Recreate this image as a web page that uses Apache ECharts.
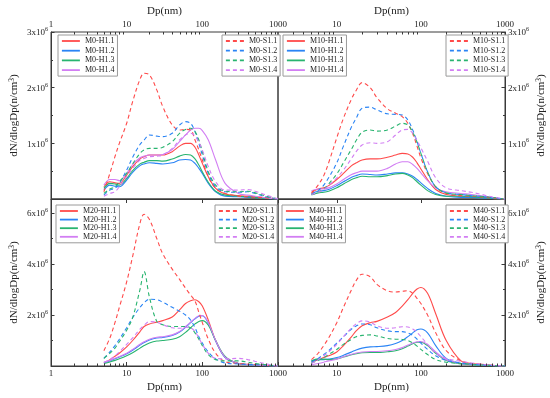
<!DOCTYPE html>
<html><head><meta charset="utf-8">
<style>html,body{margin:0;padding:0;background:#fff}#c{width:550px;height:398px}</style>
<script src="https://cdn.jsdelivr.net/npm/echarts@6/dist/echarts.min.js"></script>
</head><body><div id="c"></div>
<script>
// particle diameter grid (nm)
const X = [5,6,7,8,10,12,15,17,20,25,30,40,50,60,70,80,90,100,120,150,200,300,400,500,700,1000];
// values in units of 10^6 n/cm3
const M0_H1_1 = [0.22,0.31,0.29,0.28,0.43,0.58,0.72,0.76,0.79,0.79,0.79,0.85,0.95,1.00,1.00,0.93,0.79,0.64,0.40,0.19,0.09,0.06,0.05,0.04,0.02,0];
const M0_H1_2 = [0.16,0.25,0.23,0.22,0.34,0.48,0.60,0.63,0.65,0.64,0.63,0.65,0.70,0.71,0.70,0.64,0.55,0.46,0.28,0.13,0.05,0.04,0.03,0.03,0.01,0];
const M0_H1_3 = [0.19,0.28,0.27,0.25,0.37,0.51,0.63,0.66,0.69,0.69,0.68,0.72,0.77,0.80,0.79,0.72,0.61,0.49,0.30,0.14,0.07,0.05,0.04,0.03,0.01,0];
const M0_H1_4 = [0.25,0.35,0.35,0.33,0.46,0.62,0.74,0.77,0.79,0.79,0.80,0.89,1.03,1.15,1.24,1.27,1.27,1.23,1.06,0.70,0.28,0.10,0.07,0.05,0.02,0];
const M0_S1_1 = [0.13,0.46,0.76,1.00,1.36,1.75,2.15,2.26,2.23,1.96,1.66,1.33,1.24,1.25,1.24,1.06,0.88,0.70,0.40,0.19,0.10,0.05,0.04,0.03,0.02,0];
const M0_S1_2 = [0.07,0.16,0.19,0.28,0.52,0.75,0.98,1.06,1.15,1.13,1.12,1.18,1.33,1.39,1.36,1.21,1.00,0.79,0.46,0.22,0.13,0.12,0.13,0.10,0.04,0];
const M0_S1_3 = [0.10,0.18,0.22,0.31,0.46,0.63,0.82,0.88,0.91,0.91,0.93,1.03,1.18,1.25,1.27,1.21,1.06,0.85,0.49,0.25,0.14,0.13,0.14,0.11,0.05,0];
const M0_S1_4 = [0.05,0.10,0.13,0.22,0.40,0.55,0.70,0.73,0.76,0.77,0.79,0.91,1.06,1.15,1.18,1.13,1.02,0.88,0.58,0.31,0.16,0.16,0.17,0.14,0.07,0];

const M10_H1_1 = [0.12,0.18,0.20,0.24,0.35,0.46,0.60,0.65,0.70,0.72,0.72,0.75,0.79,0.82,0.81,0.75,0.65,0.54,0.35,0.17,0.08,0.05,0.04,0.03,0.01,0];
const M10_H1_2 = [0.10,0.14,0.15,0.17,0.24,0.31,0.39,0.42,0.45,0.44,0.43,0.45,0.47,0.47,0.45,0.41,0.35,0.29,0.19,0.10,0.05,0.03,0.03,0.02,0.01,0];
const M10_H1_3 = [0.08,0.11,0.12,0.14,0.20,0.27,0.35,0.38,0.41,0.40,0.40,0.42,0.45,0.46,0.43,0.38,0.31,0.25,0.15,0.08,0.05,0.05,0.04,0.03,0.01,0];
const M10_H1_4 = [0.15,0.18,0.18,0.20,0.27,0.35,0.44,0.47,0.50,0.50,0.50,0.55,0.63,0.67,0.67,0.62,0.55,0.47,0.33,0.20,0.13,0.10,0.08,0.06,0.03,0];
const M10_S1_1 = [0.10,0.25,0.42,0.65,1.10,1.45,1.80,1.95,2.09,2.00,1.82,1.62,1.54,1.48,1.36,1.17,0.95,0.74,0.46,0.22,0.10,0.06,0.05,0.04,0.02,0];
const M10_S1_2 = [0.08,0.15,0.25,0.38,0.65,0.95,1.30,1.45,1.63,1.65,1.60,1.53,1.52,1.51,1.42,1.24,1.03,0.82,0.49,0.22,0.11,0.08,0.06,0.05,0.02,0];
const M10_S1_3 = [0.07,0.12,0.18,0.27,0.45,0.65,0.90,1.05,1.20,1.24,1.22,1.24,1.31,1.36,1.33,1.20,1.02,0.82,0.49,0.22,0.11,0.08,0.06,0.05,0.03,0];
const M10_S1_4 = [0.08,0.12,0.17,0.24,0.38,0.52,0.73,0.85,0.97,1.01,1.00,1.03,1.15,1.24,1.25,1.18,1.05,0.92,0.68,0.38,0.20,0.15,0.12,0.09,0.04,0];

const M20_H1_1 = [0.12,0.25,0.38,0.50,0.75,1.00,1.35,1.55,1.65,1.72,1.78,1.92,2.20,2.45,2.56,2.60,2.52,2.35,1.80,1.00,0.35,0.10,0.06,0.04,0.02,0];
const M20_H1_2 = [0.13,0.20,0.28,0.35,0.48,0.62,0.82,0.92,1.02,1.10,1.12,1.20,1.33,1.52,1.70,1.85,1.95,1.97,1.68,0.98,0.33,0.09,0.05,0.03,0.01,0];
const M20_H1_3 = [0.10,0.16,0.22,0.28,0.40,0.52,0.70,0.80,0.90,0.98,1.00,1.05,1.15,1.32,1.50,1.65,1.75,1.78,1.60,1.00,0.38,0.10,0.06,0.04,0.02,0];
const M20_H1_4 = [0.15,0.22,0.30,0.37,0.50,0.65,0.85,0.95,1.05,1.13,1.15,1.22,1.35,1.55,1.72,1.87,1.97,1.98,1.70,1.00,0.35,0.10,0.06,0.04,0.02,0];
const M20_S1_1 = [0.60,1.10,1.70,2.30,3.30,4.30,5.60,5.95,5.75,5.00,4.40,3.80,3.40,3.05,2.78,2.55,2.10,1.70,1.05,0.50,0.17,0.10,0.08,0.06,0.03,0];
const M20_S1_2 = [0.30,0.55,0.80,1.05,1.50,1.90,2.30,2.48,2.62,2.60,2.50,2.30,2.15,2.00,1.80,1.50,1.15,0.90,0.55,0.28,0.12,0.08,0.06,0.05,0.03,0];
const M20_S1_3 = [0.30,0.50,0.70,0.95,1.40,1.90,3.00,3.70,2.70,1.75,1.62,1.55,1.55,1.55,1.50,1.30,1.05,0.80,0.45,0.25,0.20,0.20,0.15,0.10,0.05,0];
const M20_S1_4 = [0.15,0.25,0.40,0.55,0.85,1.10,1.45,1.60,1.74,1.72,1.62,1.50,1.48,1.52,1.50,1.35,1.10,0.85,0.50,0.30,0.28,0.30,0.25,0.18,0.08,0];

const M40_H1_1 = [0.17,0.25,0.33,0.40,0.55,0.80,1.15,1.38,1.58,1.70,1.75,1.92,2.10,2.35,2.60,2.85,3.02,3.08,2.85,2.05,1.00,0.20,0.10,0.07,0.03,0];
const M40_H1_2 = [0.20,0.25,0.25,0.27,0.33,0.42,0.55,0.63,0.70,0.75,0.76,0.80,0.88,1.00,1.15,1.30,1.42,1.45,1.30,0.80,0.30,0.10,0.06,0.04,0.02,0];
const M40_H1_3 = [0.20,0.28,0.27,0.25,0.28,0.35,0.44,0.48,0.52,0.53,0.53,0.56,0.60,0.68,0.78,0.87,0.93,0.93,0.80,0.50,0.22,0.08,0.05,0.03,0.01,0];
const M40_H1_4 = [0.05,0.10,0.15,0.20,0.27,0.36,0.46,0.51,0.55,0.57,0.57,0.60,0.65,0.72,0.82,0.90,0.95,0.96,0.85,0.55,0.25,0.10,0.07,0.05,0.02,0];
const M40_S1_1 = [0.25,0.50,0.80,1.10,1.70,2.30,3.00,3.35,3.60,3.50,3.20,2.95,2.90,2.93,2.95,2.85,2.65,2.45,2.00,1.30,0.60,0.20,0.10,0.07,0.03,0];
const M40_S1_2 = [0.15,0.30,0.45,0.60,0.90,1.15,1.45,1.57,1.65,1.62,1.50,1.38,1.35,1.35,1.30,1.20,1.05,0.90,0.65,0.40,0.22,0.12,0.08,0.05,0.02,0];
const M40_S1_3 = [0.12,0.22,0.33,0.45,0.65,0.85,1.05,1.15,1.20,1.22,1.18,1.08,1.05,1.04,1.00,0.90,0.78,0.65,0.45,0.25,0.15,0.10,0.07,0.05,0.02,0];
const M40_S1_4 = [0.10,0.25,0.40,0.55,0.85,1.15,1.50,1.65,1.77,1.72,1.58,1.48,1.50,1.54,1.53,1.45,1.32,1.15,0.85,0.50,0.30,0.18,0.12,0.08,0.03,0];

const SAMPLES = ['H1.1','H1.2','H1.3','H1.4'];
const SAMPLES_S = ['S1.1','S1.2','S1.3','S1.4'];
const X_NAME = 'Dp(nm)';
const Y_NAME = 'dN/dlogDp(n/cm{sup|3})';

const PANELS = [
  {tag:'M0',  H:[M0_H1_1,M0_H1_2,M0_H1_3,M0_H1_4],     S:[M0_S1_1,M0_S1_2,M0_S1_3,M0_S1_4],     xMin:1, xPos:'top',    yPos:'left',  yMax:3,    yInt:1},
  {tag:'M10', H:[M10_H1_1,M10_H1_2,M10_H1_3,M10_H1_4], S:[M10_S1_1,M10_S1_2,M10_S1_3,M10_S1_4], xMin:2, xPos:'top',    yPos:'right', yMax:3,    yInt:1},
  {tag:'M20', H:[M20_H1_1,M20_H1_2,M20_H1_3,M20_H1_4], S:[M20_S1_1,M20_S1_2,M20_S1_3,M20_S1_4], xMin:1, xPos:'bottom', yPos:'left',  yMax:6.55, yInt:2},
  {tag:'M40', H:[M40_H1_1,M40_H1_2,M40_H1_3,M40_H1_4], S:[M40_S1_1,M40_S1_2,M40_S1_3,M40_S1_4], xMin:2, xPos:'bottom', yPos:'right', yMax:6.55, yInt:2}
];

const FONT = 'Liberation Serif';
const INK = '#222';
const AX = '#3a3a3a';
const COLORS = ['#FF4A4A','#2A84F5','#28B46F','#D27EF3'];
const GRID_POS = [{left:51,top:32},{left:278,top:32},{left:51,top:199},{left:278,top:199}];
const LEG_POS = [
  [{left:58,top:35},{left:222,top:35}],
  [{left:283,top:35},{left:446,top:35}],
  [{left:56,top:205},{left:215,top:205}],
  [{left:282,top:205},{left:446,top:205}]
];

const isPow10 = v => Math.abs(Math.log10(v) - Math.round(Math.log10(v))) < 1e-6;

const grid = [], xAxis = [], yAxis = [], series = [], legend = [];
PANELS.forEach((p, i) => {
  grid.push(Object.assign({width:227, height:167, show:true, borderColor:AX, borderWidth:1, backgroundColor:'transparent'}, GRID_POS[i]));
  xAxis.push({
    type:'log', logBase:10, gridIndex:i, min:p.xMin, max:1000, position:p.xPos,
    axisLine:{show:true, lineStyle:{color:AX, width:1}},
    axisTick:{show:true, inside:true, length:4, lineStyle:{color:AX}},
    axisLabel:{show:true, margin:3, fontFamily:FONT, fontSize:9, color:INK, showMinLabel:true, showMaxLabel:true,
      formatter: v => isPow10(v) ? String(Math.round(v)) : ''},
    splitLine:{show:false},
    name:X_NAME, nameLocation:'middle', nameGap: p.xPos==='top' ? 15 : 16,
    nameTextStyle:{fontFamily:FONT, fontSize:11, color:INK}
  });
  yAxis.push({
    type:'value', gridIndex:i, min:0, max:p.yMax, interval:p.yInt, position:p.yPos,
    axisLine:{show:true, lineStyle:{color:AX, width:1}},
    axisTick:{show:true, inside:true, length:3.5, lineStyle:{color:AX}},
    minorTick:{show:true, splitNumber:2, length:2, lineStyle:{color:AX}},
    axisLabel:{show:true, margin:3, color:INK,
      formatter: v => (v === 0 || Math.abs(v/p.yInt - Math.round(v/p.yInt)) > 1e-6) ? '' : '{n|' + Math.round(v) + 'x10}{s|6}',
      rich:{n:{fontFamily:FONT, fontSize:9, color:INK, verticalAlign:'bottom', lineHeight:11},
            s:{fontFamily:FONT, fontSize:6, color:INK, verticalAlign:'top', lineHeight:11}}},
    splitLine:{show:false},
    name:Y_NAME, nameLocation:'middle', nameGap:30, nameRotate:90,
    nameTextStyle:{fontFamily:FONT, fontSize:11, color:INK,
      rich:{sup:{fontFamily:FONT, fontSize:7.5, color:INK, verticalAlign:'top', lineHeight:13}}}
  });
  const hNames = SAMPLES.map(s => p.tag + '-' + s);
  const sNames = SAMPLES_S.map(s => p.tag + '-' + s);
  p.H.forEach((arr, k) => series.push({
    type:'line', name:hNames[k], xAxisIndex:i, yAxisIndex:i, smooth:0.35, symbol:'none',
    data: X.map((x, j) => [x, arr[j]]),
    lineStyle:{color:COLORS[k], width:1.1, type:'solid'}, itemStyle:{color:COLORS[k]}, z:3
  }));
  p.S.forEach((arr, k) => series.push({
    type:'line', name:sNames[k], xAxisIndex:i, yAxisIndex:i, smooth:0.35, symbol:'none',
    data: X.map((x, j) => [x, arr[j]]),
    lineStyle:{color:COLORS[k], width:1.1, type:[4,3]}, itemStyle:{color:COLORS[k]}, z:3
  }));
  // minor log ticks on the labelled x axis
  const minors = [];
  for (let e = 0; e < 3; e++) for (let m = 2; m <= 9; m++) {
    const v = m * Math.pow(10, e);
    if (v > p.xMin && v < 1000) minors.push([v, p.xPos === 'top' ? p.yMax : 0]);
  }
  const dir = p.xPos === 'top' ? 1 : -1;
  series.push({
    type:'custom', xAxisIndex:i, yAxisIndex:i, silent:true, clip:false, z:6, data:minors,
    renderItem:(params, api) => {
      const c = api.coord([api.value(0), api.value(1)]);
      const x = Math.round(c[0]) + 0.5;
      return {type:'line', shape:{x1:x, y1:c[1], x2:x, y2:c[1] + dir*2.5}, style:{stroke:AX, lineWidth:1}};
    }
  });
  const bottomRow = i >= 2;
  [hNames, sNames].forEach((names, li) => legend.push(Object.assign({
    data:names, orient:'vertical', itemWidth:18, itemHeight:8, itemGap: bottomRow ? 0.6 : 1.7,
    padding:[2,3,2,3], borderColor:'#9a9a9a', borderWidth:1, borderRadius:0, backgroundColor:'#fff',
    selectedMode:false, lineStyle:{width:1.8}, itemStyle:{opacity:0},
    textStyle:{fontFamily:FONT, fontSize:8, color:INK, lineHeight:8}
  }, LEG_POS[i][li])));
});

const chart = echarts.init(document.getElementById('c'), null, {renderer:'canvas', width:550, height:398});
chart.setOption({animation:false, backgroundColor:'#fff', grid, xAxis, yAxis, series, legend});
</script></body></html>
